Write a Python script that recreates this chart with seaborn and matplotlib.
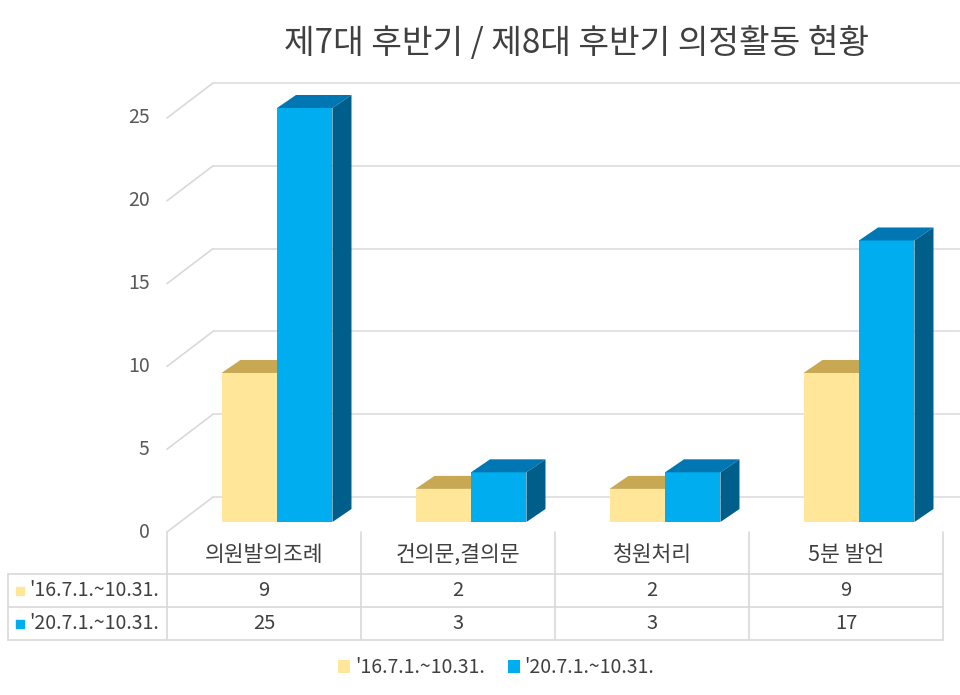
import numpy as np
import pandas as pd
import matplotlib
matplotlib.use('Agg')
import matplotlib.pyplot as plt
import seaborn as sns
from matplotlib.patches import Polygon, Patch

categories = ['의원발의조례', '건의문,결의문', '청원처리', '5분 발언']
series = ["'16.7.1.~10.31.", "'20.7.1.~10.31."]
values_16 = [9, 2, 2, 9]
values_20 = [25, 3, 3, 17]
y_ticks = [0, 5, 10, 15, 20, 25]

front_colors = ['#FFE699', '#00AEEF']
top_colors = ['#C8A853', '#0077B3']
side_colors = ['#B39548', '#005E8A']

df = pd.DataFrame({
    'category': categories * 2,
    'series': [series[0]] * len(categories) + [series[1]] * len(categories),
    'value': values_16 + values_20,
})

sns.set_theme(style='white')
plt.rcParams['font.family'] = ['Noto Sans CJK KR', 'DejaVu Sans']

fig = plt.figure(figsize=(9.6, 6.95), dpi=100)
W, H = 960, 695

# bar plane of the fake 3d chart
ymax = 26.6
ax = fig.add_axes([180 / W, (H - 522) / H, 776 / W, 440.5 / H])
sns.barplot(data=df, x='category', y='value', hue='series', palette=front_colors,
            width=0.572, gap=0, saturation=1, errorbar=None, legend=False,
            linewidth=0, ax=ax)
ax.set_xlim(-0.5, len(categories) - 0.5)
ax.set_ylim(0, ymax)
ax.axis('off')

# pixel offsets -> data units
ux = len(categories) / 776
uy = ymax / 440.5
bar_dx, bar_dy = 19 * ux, 13 * uy
wall_dx, wall_dy = 33 * ux, 25 * uy
front_dx, front_dy = -13 * ux, -10 * uy
left = -0.5
right = len(categories) - 0.5

# back wall gridlines + side wall diagonals
for v in y_ticks:
    ax.plot([left + wall_dx, right + wall_dx + 0.2], [v + wall_dy, v + wall_dy],
            color='#e2dbdb', lw=1.2, zorder=0.5, clip_on=False)
    ax.plot([left + front_dx, left + wall_dx], [v + front_dy, v + wall_dy],
            color='#d9d9d9', lw=1.2, zorder=0.5, clip_on=False)
    ax.text(left + front_dx - 0.09, v + front_dy, str(v), ha='right', va='center',
            fontsize=14, color='#595959')

# top and side faces of each bar
n = len(categories)
for i, p in enumerate(ax.patches):
    s = i // n
    x0, w, h = p.get_x(), p.get_width(), p.get_height()
    p.set_zorder(1 + 2 * s)
    p.set_clip_on(False)
    top = Polygon([(x0, h), (x0 + w, h), (x0 + w + bar_dx, h + bar_dy), (x0 + bar_dx, h + bar_dy)],
                  closed=True, facecolor=top_colors[s], edgecolor='none', zorder=1.5 + 2 * s, clip_on=False)
    side = Polygon([(x0 + w, 0), (x0 + w + bar_dx, bar_dy), (x0 + w + bar_dx, h + bar_dy), (x0 + w, h)],
                   closed=True, facecolor=side_colors[s], edgecolor='none', zorder=1.5 + 2 * s, clip_on=False)
    ax.add_patch(top)
    ax.add_patch(side)

# data table under the chart
tax = fig.add_axes([8 / W, (H - 640) / H, 935 / W, 108 / H])
tleft = -0.5 - 159 / 194
ttop = 108 / 33
tax.set_xlim(tleft, right)
tax.set_ylim(0, ttop)
tax.axis('off')
grid_c = '#d9d9d9'
for yy in [0, 1, 2]:
    tax.plot([tleft, right], [yy, yy], color=grid_c, lw=1.2, clip_on=False)
tax.plot([tleft, tleft], [0, 2], color=grid_c, lw=1.2, clip_on=False)
for k in range(n + 1):
    tax.plot([k - 0.5, k - 0.5], [0, ttop], color=grid_c, lw=1.2, clip_on=False)

for k, cat in enumerate(categories):
    tax.text(k, 2.58, cat, ha='center', va='center', fontsize=15.5, color='#404040')

rows = [values_16, values_20]
for r, vals in enumerate(rows):
    yy = 1.5 - r
    tax.scatter([tleft + 12 / 194], [yy], marker='s', s=40, color=front_colors[r], clip_on=False)
    tax.text(tleft + 21 / 194, yy, series[r], ha='left', va='center', fontsize=14, color='#404040')
    for k, v in enumerate(vals):
        tax.text(k, yy, str(v), ha='center', va='center', fontsize=14.5, color='#404040')

handles = [Patch(facecolor=c, edgecolor='none', label=lab) for c, lab in zip(front_colors, series)]
fig.legend(handles=handles, loc='center', bbox_to_anchor=(0.517, 0.039), ncol=2, frameon=False,
           handlelength=0.6, handleheight=0.6, handletextpad=0.25, columnspacing=1.2,
           fontsize=14, labelcolor='#404040')

fig.text(0.601, 0.938, '제7대 후반기 / 제8대 후반기 의정활동 현황', ha='center', va='center',
         fontsize=24, color='#404040')

fig.savefig('out.png', dpi=100, facecolor='white')
